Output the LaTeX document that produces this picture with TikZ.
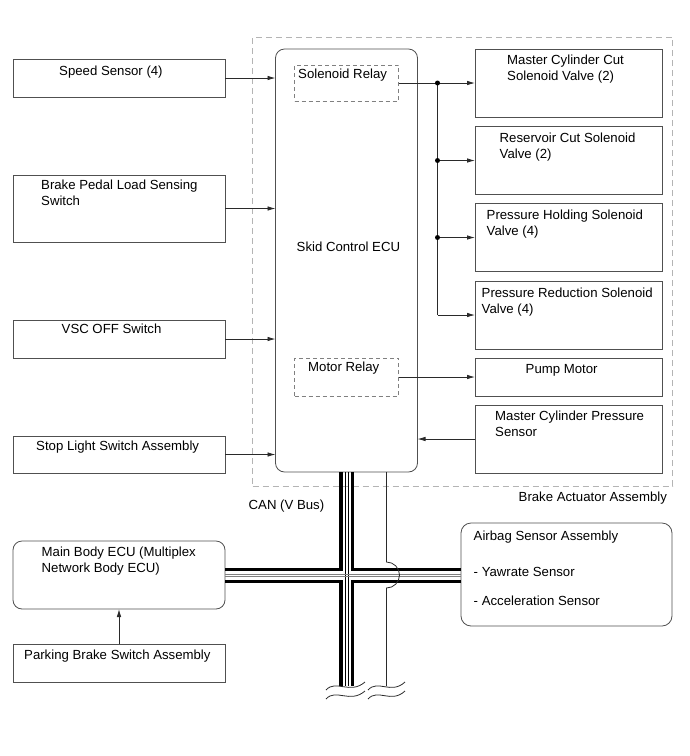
\documentclass[tikz,border=0pt]{standalone}
\usepackage{fontspec}
\setmainfont{Liberation Sans}
\usetikzlibrary{arrows.meta}

\definecolor{boxgray}{HTML}{505050}
\definecolor{wiregray}{HTML}{2A2A2A}
\definecolor{dashgray}{HTML}{B4B4B4}

\begin{document}
\begin{tikzpicture}[x=1pt,y=-1pt,
    box/.style={draw=boxgray,line width=0.8pt,anchor=north west,inner sep=0pt,outer sep=0pt},
    rbox/.style={box,rounded corners=9pt},
    relay/.style={box,draw=gray,dash pattern=on 4pt off 3pt},
    lbl/.style={anchor=north west,inner sep=0pt,align=left,font=\fontsize{13.2}{16}\selectfont},
    wire/.style={draw=wiregray,line width=0.8pt},
    arr/.style={wire,-{Latex[length=8pt,width=4.5pt]}},
    dot/.style={circle,fill=black,inner sep=0pt,minimum size=5pt},
    busline/.style={line width=3.5pt},
    pair/.style={line width=0.7pt}]
  \useasboundingbox (0,0) rectangle (690,756);

  % brake actuator outline
  \node[box,draw=dashgray,dash pattern=on 6pt off 4pt,minimum width=420pt,minimum height=449pt] (act) at (252.5,37) {};

  % left column
  \node[box,minimum width=212pt,minimum height=38pt] (spd) at (13,59) {};
  \node[box,minimum width=212pt,minimum height=67pt] (pedal) at (13,175) {};
  \node[box,minimum width=212pt,minimum height=38pt] (vsc) at (13,320) {};
  \node[box,minimum width=212pt,minimum height=37pt] (stop) at (13,436) {};
  \node[rbox,minimum width=212pt,minimum height=68pt] (body) at (13,541) {};
  \node[box,minimum width=212pt,minimum height=38pt] (park) at (13,644) {};

  % skid control ECU and relays
  \node[rbox,minimum width=142pt,minimum height=423pt] (ecu) at (275.5,49) {};
  \node[relay,minimum width=104pt,minimum height=36pt] (solrel) at (294.5,65) {};
  \node[relay,minimum width=104pt,minimum height=38pt] (motrel) at (294.5,358) {};

  % right column
  \node[box,minimum width=187pt,minimum height=68pt] (mcc) at (475,49) {};
  \node[box,minimum width=187pt,minimum height=68pt] (rcv) at (475,126.5) {};
  \node[box,minimum width=187pt,minimum height=68pt] (phv) at (475,203.5) {};
  \node[box,minimum width=187pt,minimum height=68pt] (prv) at (475,281) {};
  \node[box,minimum width=187pt,minimum height=38pt] (pump) at (475,358) {};
  \node[box,minimum width=187pt,minimum height=68pt] (mcps) at (475,405) {};
  \node[rbox,rounded corners=10pt,minimum width=211pt,minimum height=103pt] (airbag) at (461,523) {};

  % texts
  \node[lbl] (t-spd) at (59,66) {Speed Sensor (4)};
  \node[lbl] (t-pedal) at (41,179.5) {Brake Pedal Load Sensing\\Switch};
  \node[lbl] (t-vsc) at (61.5,323.5) {VSC OFF Switch};
  \node[lbl] (t-stop) at (36,441) {Stop Light Switch Assembly};
  \node[lbl] (t-body) at (41.5,547) {Main Body ECU (Multiplex\\Network Body ECU)};
  \node[lbl] (t-park) at (24,649.5) {Parking Brake Switch Assembly};
  \node[lbl] (t-ecu) at (296.5,242) {Skid Control ECU};
  \node[lbl] (t-solrel) at (298,68.5) {Solenoid Relay};
  \node[lbl] (t-motrel) at (308,362) {Motor Relay};
  \node[lbl] (t-mcc) at (507,55) {Master Cylinder Cut\\Solenoid Valve (2)};
  \node[lbl] (t-rcv) at (499.5,133) {Reservoir Cut Solenoid\\Valve (2)};
  \node[lbl] (t-phv) at (486.5,210) {Pressure Holding Solenoid\\Valve (4)};
  \node[lbl] (t-prv) at (481.5,287.5) {Pressure Reduction Solenoid\\Valve (4)};
  \node[lbl] (t-pump) at (525.5,364) {Pump Motor};
  \node[lbl] (t-mcps) at (495,411) {Master Cylinder Pressure\\Sensor};
  \node[lbl] (t-act) at (518.5,492) {Brake Actuator Assembly};
  \node[lbl] (t-can) at (248.5,499.5) {CAN (V Bus)};
  \node[lbl] (t-air) at (473.5,531) {Airbag Sensor Assembly};
  \node[lbl] (t-yaw) at (473.5,567) {- Yawrate Sensor};
  \node[lbl] (t-acc) at (473.5,596) {- Acceleration Sensor};

  % inputs to the ECU
  \draw[arr] (spd.east) -- (spd.east -| ecu.west);
  \draw[arr] (pedal.east) -- (pedal.east -| ecu.west);
  \draw[arr] (vsc.east) -- (vsc.east -| ecu.west);
  \draw[arr] (stop.east) -- (stop.east -| ecu.west);
  \draw[arr] (mcps.west) -- (mcps.west -| ecu.east);
  \draw[arr] (park.north) -- (body.south);

  % solenoid relay feed
  \coordinate (jx) at (437.5,0);
  \coordinate (j1) at (solrel.east -| jx);
  \coordinate (j2) at (rcv.west -| jx);
  \coordinate (j3) at (phv.west -| jx);
  \coordinate (j4) at (prv.west -| jx);
  \draw[wire] (solrel.east) -- (j1) -- (j4);
  \draw[arr] (j1) -- (mcc.west);
  \draw[arr] (j2) -- (rcv.west);
  \draw[arr] (j3) -- (phv.west);
  \draw[arr] (j4) -- (prv.west);
  \node[dot] (d1) at (j1) {};
  \node[dot] (d2) at (j2) {};
  \node[dot] (d3) at (j3) {};
  \draw[arr] (motrel.east) -- (pump.west);

  % CAN bus
  \coordinate (vl) at (341,0);
  \coordinate (vr) at (352.5,0);
  \coordinate (vi1) at (345.5,0);
  \coordinate (vi2) at (348,0);
  \coordinate (ht) at (0,569.5);
  \coordinate (hb) at (0,581.5);
  \coordinate (hi1) at (0,574);
  \coordinate (hi2) at (0,576.5);
  \coordinate (vend) at (0,686);
  \draw[busline] (vl |- ecu.south) -- (vl |- ht) -- (body.east |- ht);
  \draw[busline] (vr |- ecu.south) -- (vr |- ht) -- (airbag.west |- ht);
  \draw[busline] (body.east |- hb) -- (vl |- hb) -- (vl |- vend);
  \draw[busline] (airbag.west |- hb) -- (vr |- hb) -- (vr |- vend);
  \draw[pair] (vi1 |- ecu.south) -- (vi1 |- vend);
  \draw[pair] (vi2 |- ecu.south) -- (vi2 |- vend);
  \draw[pair,gray] (body.east |- hi1) -- (airbag.west |- hi1);
  \draw[pair,gray] (body.east |- hi2) -- (airbag.west |- hi2);

  % line hopping over the bus
  \coordinate (tl) at (386.5,0);
  \draw[wire] (tl |- ecu.south) -- (386.5,562) arc[start angle=-90,end angle=90,radius=13] -- (tl |- vend);

  % break marks
  \draw[wire] (326,690) .. controls (336,679) and (350,695) .. (365,682);
  \draw[wire] (326,699) .. controls (336,688) and (350,704) .. (365,691);
  \draw[wire] (368,690) .. controls (378,679) and (391,695) .. (405,682);
  \draw[wire] (368,699) .. controls (378,688) and (391,704) .. (405,691);
\end{tikzpicture}
\end{document}
